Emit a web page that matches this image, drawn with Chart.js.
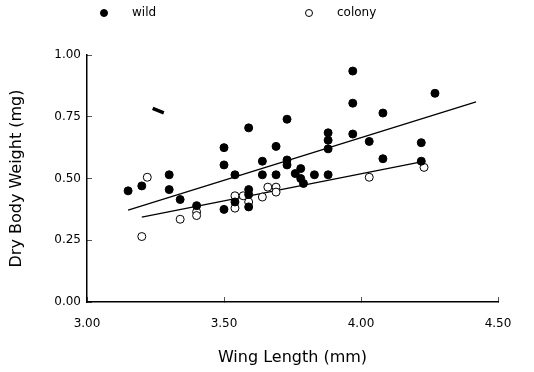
<!DOCTYPE html>
<html>
<head>
<meta charset="utf-8">
<script src="https://cdn.jsdelivr.net/npm/chart.js@4.4.1/dist/chart.umd.min.js"></script>
<style>
  html, body { margin: 0; padding: 0; background: #fff; }
</style>
</head>
<body>
<canvas id="myChart" width="534" height="372"></canvas>
<script>
// wild flies (filled circles)
const wildX = [3.15, 3.20, 3.30, 3.30, 3.34, 3.40, 3.50, 3.50, 3.50, 3.54, 3.54,
  3.59, 3.59, 3.59, 3.59, 3.64, 3.64, 3.69, 3.69, 3.73, 3.73, 3.73,
  3.76, 3.78, 3.78, 3.79, 3.83, 3.88, 3.88, 3.88, 3.88,
  3.97, 3.97, 3.97, 4.03, 4.08, 4.08, 4.22, 4.22, 4.27]
const wildY = [0.45, 0.47, 0.515, 0.455, 0.415, 0.39, 0.625, 0.555, 0.375, 0.515, 0.405,
  0.705, 0.455, 0.435, 0.385, 0.57, 0.515, 0.63, 0.515, 0.74, 0.575, 0.555,
  0.52, 0.54, 0.50, 0.48, 0.515, 0.685, 0.655, 0.62, 0.515,
  0.935, 0.805, 0.68, 0.65, 0.765, 0.58, 0.645, 0.57, 0.845]
// smudged wild point near the top left
const smudgeX = [3.26]
const smudgeY = [0.775]

// colony flies (open circles)
const colonyX = [3.22, 3.20, 3.34, 3.40, 3.40, 3.54, 3.54, 3.57, 3.59,
  3.64, 3.66, 3.69, 3.69, 4.03, 4.23]
const colonyY = [0.505, 0.265, 0.335, 0.365, 0.35, 0.43, 0.38, 0.43, 0.405,
  0.425, 0.465, 0.465, 0.445, 0.505, 0.545]

// regression lines
const wildFitX = [3.15, 4.42]
const wildFitY = [0.372, 0.81]
const colonyFitX = [3.20, 4.22]
const colonyFitY = [0.344, 0.567]

const xTicks = [3.0, 3.5, 4.0, 4.5]
const yTicks = [0.0, 0.25, 0.5, 0.75, 1.0]

function toPoints(xs, ys){
    return xs.map((x, i) => ({x: x, y: ys[i]}))
}

Chart.defaults.font.family = "'DejaVu Sans', sans-serif"
Chart.defaults.color = '#000'

// legend at top, drawn with the dataset styles
const topLegend = {
    id: 'topLegend',
    afterDraw(chart){
        const ctx = chart.ctx
        const items = [
            {ds: chart.data.datasets[0], x: 104},
            {ds: chart.data.datasets[2], x: 309}
        ]
        ctx.save()
        ctx.font = "12px 'DejaVu Sans', sans-serif"
        ctx.textBaseline = 'middle'
        items.forEach(item => {
            ctx.beginPath()
            ctx.arc(item.x, 13, item.ds.pointRadius - 0.5, 0, Math.PI * 2)
            ctx.fillStyle = item.ds.backgroundColor
            ctx.fill()
            ctx.lineWidth = 1
            ctx.strokeStyle = item.ds.borderColor
            ctx.stroke()
            ctx.fillStyle = '#000'
            ctx.fillText(item.ds.label, item.x + 28, 13)
        })
        ctx.restore()
    }
}

const ctx = document.getElementById('myChart')
new Chart(ctx, {
    type: 'scatter',
    data: {
        datasets: [
            {
                label: 'wild',
                data: toPoints(wildX, wildY),
                backgroundColor: '#000',
                borderColor: '#000',
                borderWidth: 1,
                pointRadius: 4
            },
            {
                label: 'wild smudge',
                data: toPoints(smudgeX, smudgeY),
                pointStyle: 'line',
                rotation: 22,
                borderColor: '#000',
                borderWidth: 3.5,
                pointRadius: 6
            },
            {
                label: 'colony',
                data: toPoints(colonyX, colonyY),
                backgroundColor: '#fff',
                borderColor: '#000',
                borderWidth: 1,
                pointRadius: 4
            },
            {
                type: 'line',
                label: 'wild fit',
                data: toPoints(wildFitX, wildFitY),
                borderColor: '#000',
                borderWidth: 1.3,
                pointRadius: 0,
                fill: false
            },
            {
                type: 'line',
                label: 'colony fit',
                data: toPoints(colonyFitX, colonyFitY),
                borderColor: '#000',
                borderWidth: 1.3,
                pointRadius: 0,
                fill: false
            }
        ]
    },
    options: {
        responsive: false,
        animation: false,
        devicePixelRatio: 1,
        layout: { padding: { top: 55, right: 36, left: 0, bottom: 0 } },
        plugins: {
            legend: { display: false },
            tooltip: { enabled: false }
        },
        scales: {
            x: {
                type: 'linear',
                min: 3,
                max: 4.5,
                afterBuildTicks(scale){ scale.ticks = xTicks.map(v => ({value: v})) },
                afterFit(scale){ scale.height = 70 },
                ticks: {
                    padding: 20,
                    font: { size: 12 },
                    callback: v => v.toFixed(2)
                },
                grid: { drawOnChartArea: false, tickLength: -5, color: '#555', lineWidth: 1 },
                border: { color: '#000', width: 1.5 },
                title: {
                    display: true,
                    text: 'Wing Length (mm)',
                    font: { size: 16 },
                    padding: { top: 0, bottom: 5 }
                }
            },
            y: {
                min: 0,
                max: 1,
                afterBuildTicks(scale){ scale.ticks = yTicks.map(v => ({value: v})) },
                afterFit(scale){ scale.width = 87 },
                ticks: {
                    padding: 11,
                    font: { size: 12 },
                    callback: v => v.toFixed(2)
                },
                grid: { drawOnChartArea: false, tickLength: -5, color: '#555', lineWidth: 1 },
                border: { color: '#000', width: 1.5 },
                title: {
                    display: true,
                    text: 'Dry Body Weight (mg)',
                    font: { size: 16 },
                    padding: { top: 7, bottom: 0 }
                }
            }
        }
    },
    plugins: [topLegend]
})
</script>
</body>
</html>
